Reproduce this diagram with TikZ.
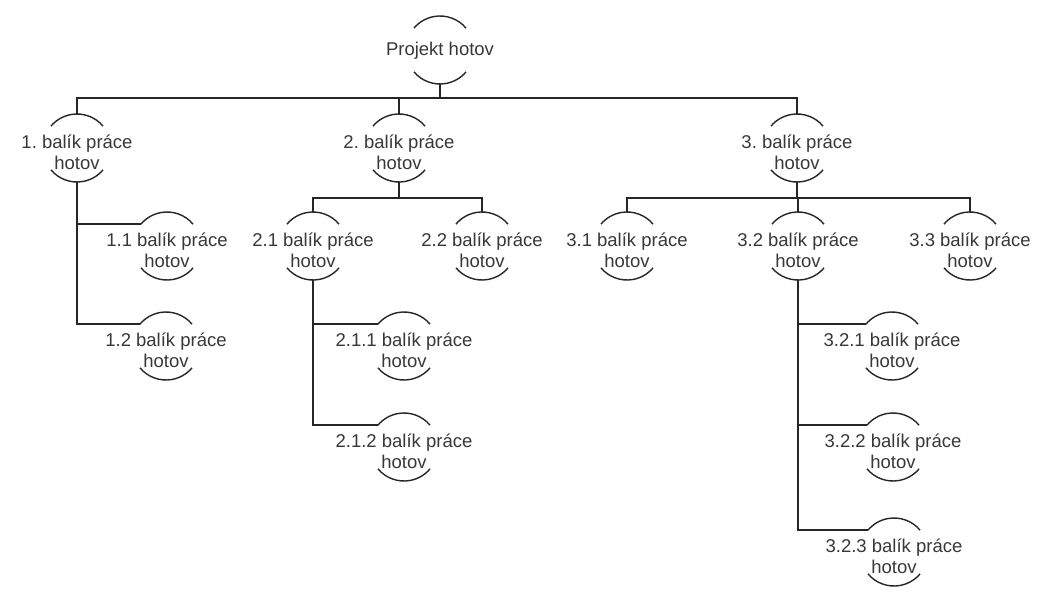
\documentclass[tikz,border=0pt]{standalone}
\usepackage{fontspec}
\setmainfont{Liberation Sans}
\frenchspacing
\tikzset{
  wp/.style={circle, minimum size=68pt, inner sep=0pt, outer sep=0pt},
  lbl/.style={inner sep=0pt, align=center, text=black!78, font=\fontsize{18.5}{21}\selectfont},
  ln/.style={line width=1.4pt, draw=black!85}
}
\newcommand\wparcs[1]{%
  \draw[ln] (#1.40) arc[start angle=40,end angle=140,radius=34pt];
  \draw[ln] (#1.220) arc[start angle=220,end angle=320,radius=34pt];}
\begin{document}
\begin{tikzpicture}[x=1pt,y=1pt]
\useasboundingbox[fill=white] (0,0) rectangle (1041,-610);
% work package shapes
\node[wp] (P)    at (440,-50)  {};
\node[wp] (N1)   at (77,-148)  {};
\node[wp] (N2)   at (399,-148) {};
\node[wp] (N3)   at (797,-148) {};
\node[wp] (N11)  at (167,-246) {};
\node[wp] (N12)  at (166,-346) {};
\node[wp] (N21)  at (313,-246) {};
\node[wp] (N22)  at (482,-246) {};
\node[wp] (N211) at (404,-346) {};
\node[wp] (N212) at (404,-447) {};
\node[wp] (N31)  at (627,-246) {};
\node[wp] (N32)  at (798,-246) {};
\node[wp] (N33)  at (970,-246) {};
\node[wp] (N321) at (892,-346) {};
\node[wp] (N322) at (893,-447) {};
\node[wp] (N323) at (894,-552) {};
\foreach \n in {P,N1,N2,N3,N11,N12,N21,N22,N211,N212,N31,N32,N33,N321,N322,N323}{\wparcs{\n}}
% labels
\node[lbl] (Pt)    at ([yshift=-1pt]P)    {Projekt hotov};
\node[lbl] (N1t)   at ([yshift=-4pt]N1)   {1. balík práce\\hotov};
\node[lbl] (N2t)   at ([yshift=-4pt]N2)   {2. balík práce\\hotov};
\node[lbl] (N3t)   at ([yshift=-4pt]N3)   {3. balík práce\\hotov};
\node[lbl] (N11t)  at ([yshift=-4pt]N11)  {1.1 balík práce\\hotov};
\node[lbl] (N12t)  at ([yshift=-4pt]N12)  {1.2 balík práce\\hotov};
\node[lbl] (N21t)  at ([yshift=-4pt]N21)  {2.1 balík práce\\hotov};
\node[lbl] (N22t)  at ([yshift=-4pt]N22)  {2.2 balík práce\\hotov};
\node[lbl] (N211t) at ([yshift=-4pt]N211) {2.1.1 balík práce\\hotov};
\node[lbl] (N212t) at ([yshift=-4pt]N212) {2.1.2 balík práce\\hotov};
\node[lbl] (N31t)  at ([yshift=-4pt]N31)  {3.1 balík práce\\hotov};
\node[lbl] (N32t)  at ([yshift=-4pt]N32)  {3.2 balík práce\\hotov};
\node[lbl] (N33t)  at ([yshift=-4pt]N33)  {3.3 balík práce\\hotov};
\node[lbl] (N321t) at ([yshift=-4pt]N321) {3.2.1 balík práce\\hotov};
\node[lbl] (N322t) at ([yshift=-4pt]N322) {3.2.2 balík práce\\hotov};
\node[lbl] (N323t) at ([yshift=-4pt]N323) {3.2.3 balík práce\\hotov};
% buses
\coordinate (b1) at (0,-98);
\coordinate (b2) at (0,-198);
\draw[ln] (P.south) -- (P.south |- b1);
\draw[ln] (N1.north) -- (N1.north |- b1) -- (N3.north |- b1) -- (N3.north);
\draw[ln] (N2.north) -- (N2.north |- b1);
\draw[ln] (N2.south) -- (N2.south |- b2);
\draw[ln] (N21.north) -- (N21.north |- b2) -- (N22.north |- b2) -- (N22.north);
\draw[ln] (N3.south) -- (N3.south |- b2);
\draw[ln] (N31.north) -- (N31.north |- b2) -- (N33.north |- b2) -- (N33.north);
\draw[ln] (N32.north) -- (N32.north |- b2);
% side branches
\draw[ln] (N1.south) |- (N12.140);
\draw[ln] (N11.140) -- (N11.140 -| N1.south);
\draw[ln] (N21.south) |- (N212.140);
\draw[ln] (N211.140) -- (N211.140 -| N21.south);
\draw[ln] (N32.south) |- (N323.140);
\draw[ln] (N321.140) -- (N321.140 -| N32.south);
\draw[ln] (N322.140) -- (N322.140 -| N32.south);
\end{tikzpicture}
\end{document}
